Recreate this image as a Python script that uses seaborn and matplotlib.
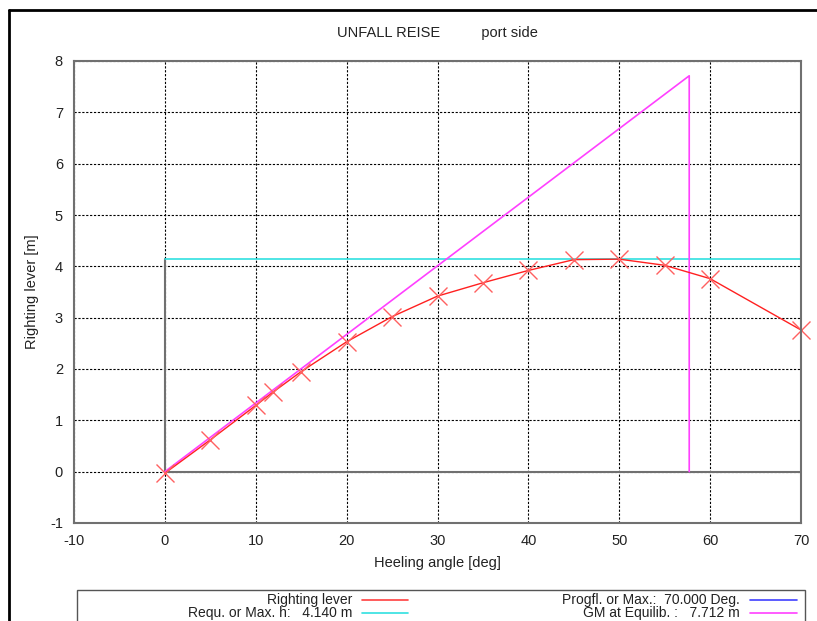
import matplotlib
matplotlib.use("Agg")
import matplotlib.pyplot as plt
import seaborn as sns
import pandas as pd
from matplotlib.lines import Line2D
from matplotlib.patches import Rectangle

# ---- data ----
angles = [0, 5, 10, 11.9, 15, 20, 25, 30, 35, 40, 45, 50, 55, 60, 70]
lever = [-0.03, 0.62, 1.29, 1.55, 1.95, 2.53, 3.02, 3.42, 3.68, 3.92, 4.13, 4.14, 4.02, 3.76, 2.76]
gm_x = [0, 57.7, 57.7]
gm_y = [0, 7.712, 0]
req_x = [0, 70]
req_y = [4.14, 4.14]
progfl_x = [70, 70]
progfl_y = [0, 4.14]
base_x = [0, 70]
base_y = [0, 0]
vert_x = [0, 0]
vert_y = [0, 4.14]
xticks = [-10, 0, 10, 20, 30, 40, 50, 60, 70]
yticks = [-1, 0, 1, 2, 3, 4, 5, 6, 7, 8]
title = "UNFALL REISE          port side"
xlabel = "Heeling angle [deg]"
ylabel = "Righting lever [m]"
legend_labels = ["Righting lever", "Progfl. or Max.:  70.000 Deg.",
                 "Requ. or Max. h:   4.140 m", "GM at Equilib. :   7.712 m"]

sns.set_theme(style="white")
plt.rcParams['font.family'] = ['Liberation Sans', 'DejaVu Sans']
plt.rcParams['axes.unicode_minus'] = False
FS = 10.5
LFS = 10
TXT = '#222222'

W, H = 817, 621
fig = plt.figure(figsize=(W / 100, H / 100), dpi=100)
ax = fig.add_axes([74 / W, (H - 523) / H, (801 - 74) / W, (523 - 61) / H])

# grid
ax.set_xlim(-10, 70)
ax.set_ylim(-1, 8)
ax.set_xticks(xticks)
ax.set_yticks(yticks)
ax.grid(True, color='black', linestyle=(0, (2, 1.5)), linewidth=0.8)
ax.set_axisbelow(True)

# reference lines
ax.plot(base_x, base_y, color='#707070', lw=1.5, zorder=2)
ax.plot(vert_x, vert_y, color='#707070', lw=1.5, zorder=2)
ax.plot(progfl_x, progfl_y, color='#4040ff', lw=1.2, zorder=1)
ax.plot(req_x, req_y, color='#30e0e0', lw=1.2, zorder=3)
ax.plot(gm_x, gm_y, color='#ff40ff', lw=1.2, zorder=3)

df = pd.DataFrame({'angle': angles, 'lever': lever})
sns.lineplot(data=df, x='angle', y='lever', ax=ax, sort=False, color='#ff2020',
             lw=1.0, marker='x', markersize=13, markeredgewidth=1.0,
             markeredgecolor='#ff6060', zorder=4, clip_on=False)

for s in ax.spines.values():
    s.set_color('#707070')
    s.set_linewidth(1.5)
    s.set_zorder(5)

ax.tick_params(axis='both', direction='in', length=5, width=1, color='black',
               labelsize=FS, labelcolor=TXT, pad=8)
ax.set_xlabel(xlabel, fontsize=FS, color=TXT, labelpad=6)
ax.set_ylabel(ylabel, fontsize=FS, color=TXT, labelpad=8)
ax.set_title(title, fontsize=FS, color=TXT, pad=17)

# figure frame
fig.add_artist(Line2D([9 / W, 9 / W], [0, 1 - 10 / H], transform=fig.transFigure,
                      color='black', lw=2))
fig.add_artist(Line2D([9 / W, 1], [1 - 10 / H, 1 - 10 / H], transform=fig.transFigure,
                      color='black', lw=2))

# legend box (gnuplot style)
fig.add_artist(Rectangle((77 / W, -0.05), (805 - 77) / W, 0.05 + (H - 590) / H,
                         transform=fig.transFigure, fill=False, edgecolor='#555555', lw=1))
legend_colors = ['#ff4040', '#4040ff', '#30e0e0', '#ff40ff']
pos = [(352, 362, 408, 600), (740, 750, 797, 600), (352, 362, 408, 613), (740, 750, 797, 613)]
for lab, col, (tx, l0, l1, yy) in zip(legend_labels, legend_colors, pos):
    fig.text(tx / W, 1 - yy / H, lab, ha='right', va='center', fontsize=LFS, color=TXT)
    fig.add_artist(Line2D([l0 / W, l1 / W], [1 - yy / H, 1 - yy / H],
                          transform=fig.transFigure, color=col, lw=1.2))

fig.savefig('out.png', dpi=100)
